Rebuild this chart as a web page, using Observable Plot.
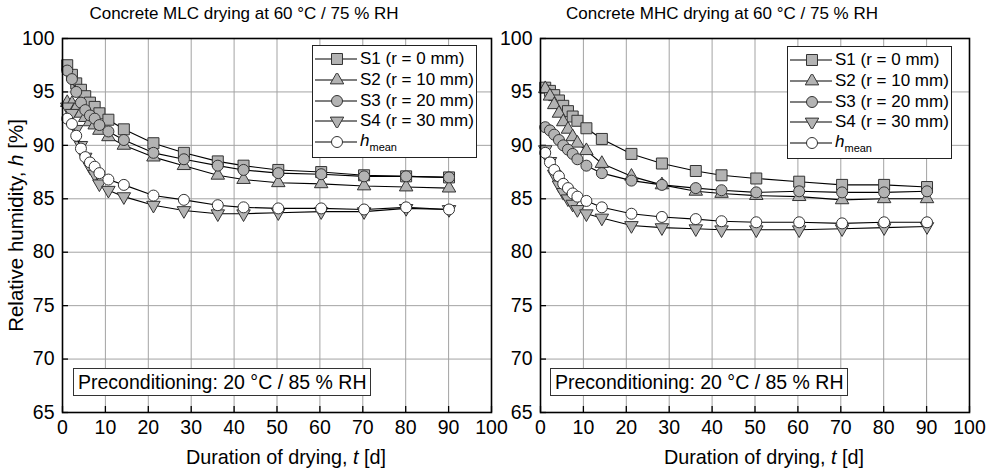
<!DOCTYPE html>
<html><head><meta charset="utf-8">
<script src="https://cdn.jsdelivr.net/npm/d3@7"></script>
<script src="https://cdn.jsdelivr.net/npm/@observablehq/plot@0.6"></script>
<style>
body{margin:0;background:#fff;font-family:"Liberation Sans",Arial,sans-serif;}
#wrap{position:relative;width:994px;height:472px;overflow:hidden;background:#fff}
.panel{position:absolute;top:0;width:497px;height:472px}
.panel svg{overflow:visible}
.legend{position:absolute;border:1px solid #222;background:#fff;font-size:17px;padding:3px 4px 3px 2px;box-sizing:border-box;color:#000}
.legend .row{height:20.7px;display:flex;align-items:center;white-space:nowrap}
.legend svg{flex:none;margin-right:3px}
.legend sub{font-size:11px;vertical-align:-5px}
.precond{position:absolute;border:1px solid #333;background:#fff;font-size:19.5px;box-sizing:border-box;height:28px;line-height:26px;padding:0 4px;white-space:nowrap;color:#000}
</style></head><body><div id="wrap"></div>
<script>
// ---- data ----
const days = [1.1, 2.2, 3.2, 4.3, 5.3, 6.4, 7.5, 8.6, 10.7, 14.3, 21.2, 28.3, 36.2, 42.2, 50.3, 60.3, 70.3, 80.1, 90.1];
const seriesKeys = ["S1", "S2", "S3", "S4", "hmean"];
const seriesNames = ["S1 (r = 0 mm)", "S2 (r = 10 mm)", "S3 (r = 20 mm)", "S4 (r = 30 mm)", "h mean"];

const mlcS1 = [97.5, 96.6, 95.8, 95.2, 94.6, 94.0, 93.6, 93.0, 92.4, 91.5, 90.2, 89.3, 88.5, 88.1, 87.7, 87.5, 87.2, 87.1, 87.0];
const mlcS2 = [94.0, 93.9, 93.5, 93.0, 92.6, 92.2, 91.9, 91.4, 90.8, 90.0, 88.9, 88.1, 87.2, 86.8, 86.5, 86.4, 86.2, 86.1, 86.0];
const mlcS3 = [97.0, 96.2, 95.0, 94.0, 93.3, 92.8, 92.5, 91.9, 91.3, 90.5, 89.3, 88.7, 88.1, 87.7, 87.4, 87.3, 87.1, 87.1, 87.0];
const mlcS4 = [93.6, 93.0, 91.5, 90.0, 88.9, 88.0, 87.3, 86.4, 85.8, 85.2, 84.4, 83.9, 83.6, 83.6, 83.7, 83.8, 83.8, 84.1, 84.0];
const mlcMean = [92.5, 92.0, 90.9, 89.7, 88.9, 88.4, 88.0, 87.4, 86.8, 86.3, 85.3, 84.9, 84.4, 84.2, 84.1, 84.1, 84.0, 84.2, 84.0];

const mhcS1 = [95.4, 95.1, 94.7, 94.2, 93.7, 93.2, 92.7, 92.3, 91.6, 90.6, 89.2, 88.3, 87.6, 87.2, 86.9, 86.6, 86.3, 86.3, 86.1];
const mhcS2 = [95.3, 94.6, 93.8, 93.0, 92.2, 91.5, 90.8, 90.2, 89.5, 88.3, 87.1, 86.3, 85.7, 85.5, 85.3, 85.2, 84.9, 85.0, 85.0];
const mhcS3 = [91.7, 91.4, 91.0, 90.5, 90.0, 89.6, 89.2, 88.7, 88.1, 87.4, 86.7, 86.3, 86.0, 85.8, 85.6, 85.7, 85.6, 85.6, 85.7];
const mhcS4 = [89.6, 88.5, 87.3, 86.3, 85.6, 85.0, 84.5, 84.0, 83.6, 83.2, 82.5, 82.3, 82.2, 82.1, 82.1, 82.1, 82.2, 82.3, 82.4];
const mhcMean = [89.3, 88.4, 87.7, 87.1, 86.4, 86.0, 85.5, 85.2, 84.8, 84.2, 83.6, 83.3, 83.1, 82.9, 82.8, 82.8, 82.7, 82.8, 82.8];

const xTicks = [0, 10, 20, 30, 40, 50, 60, 70, 80, 90, 100];
const yTicks = [65, 70, 75, 80, 85, 90, 95, 100];
const titles = ["Concrete MLC drying at 60 °C / 75 % RH", "Concrete MHC drying at 60 °C / 75 % RH"];
const xLabel = "Duration of drying, t [d]";
const yLabel = "Relative humidity, h [%]";
const noteText = "Preconditioning: 20 °C / 85 % RH";

// ---- styles ----
const GRAY = "#b3b3b3", MSTROKE = "#333";
const symStyle = {
  S1: {symbol: "square", r: 6.2, fill: GRAY, rotate: 0},
  S2: {symbol: "triangle", r: 5.0, fill: GRAY, rotate: 0},
  S3: {symbol: "circle", r: 5.5, fill: GRAY, rotate: 0},
  S4: {symbol: "triangle", r: 5.0, fill: GRAY, rotate: 180},
  hmean: {symbol: "circle", r: 5.5, fill: "#fff", rotate: 0}
};

function rows(arrs) {
  const out = [];
  seriesKeys.forEach((k, i) => arrs[i].forEach((h, j) => out.push({s: k, t: days[j], h})));
  return out;
}

function panel(title, data, ml, mr, showY) {
  const fw = 497 - ml - mr, fh = 472 - 38 - 60;
  const marks = [
    Plot.gridX(xTicks, {stroke: "#a3a3a3", strokeOpacity: 1, strokeWidth: 1}),
    Plot.gridY(yTicks, {stroke: "#a3a3a3", strokeOpacity: 1, strokeWidth: 1}),
    Plot.tickX(xTicks, {x: d => d, insetTop: fh - 6, stroke: "#000", strokeWidth: 1.3}),
    Plot.tickY(yTicks, {y: d => d, insetRight: fw - 6, stroke: "#000", strokeWidth: 1.3}),
    Plot.axisX(xTicks, {tickSize: 0, tickPadding: 8, label: null, fontSize: 19.5}),
    Plot.axisY(yTicks, {tickSize: 0, tickPadding: 8, label: null, fontSize: 19.5})
  ];
  for (const k of seriesKeys) {
    const d = data.filter(r => r.s === k);
    const st = symStyle[k];
    marks.push(Plot.line(d, {x: "t", y: "h", stroke: "#000", strokeWidth: 1.1}));
    marks.push(Plot.dot(d, {x: "t", y: "h", symbol: () => st.symbol, r: st.r, fill: st.fill, stroke: MSTROKE, strokeWidth: 1, rotate: st.rotate}));
  }
  marks.push(Plot.frame({stroke: "#000", strokeWidth: 1.6}));
  marks.push(Plot.text([title], {frameAnchor: "top", lineAnchor: "middle", textAnchor: "middle", dy: -25, dx: -33, fontSize: 17, fill: "#000"}));
  marks.push(Plot.text([xLabel], {frameAnchor: "bottom", lineAnchor: "middle", textAnchor: "middle", dy: 45, dx: 9, fontSize: 19.8, fill: "#000"}));
  if (showY) marks.push(Plot.text([yLabel], {frameAnchor: "left", lineAnchor: "middle", textAnchor: "middle", dx: -46, rotate: -90, fontSize: 20.5, fill: "#000"}));
  const svg = Plot.plot({
    width: 497, height: 472, marginLeft: ml, marginRight: mr, marginTop: 38, marginBottom: 60,
    x: {domain: [0, 100]}, y: {domain: [65, 100]},
    symbol: {type: "identity"},
    style: {fontFamily: "'Liberation Sans', Arial, sans-serif", fontSize: "19.5px", color: "#000", background: "transparent", overflow: "visible"},
    marks
  });
  svg.querySelectorAll("text").forEach(t => {
    if (t.textContent === xLabel) t.innerHTML = 'Duration of drying, <tspan font-style="italic">t</tspan> [d]';
    if (t.textContent === yLabel) t.innerHTML = 'Relative humidity, <tspan font-style="italic">h</tspan> [%]';
  });
  return svg;
}

function legendSymbol(k) {
  const st = symStyle[k];
  const symMap = {square: d3.symbolSquare, triangle: d3.symbolTriangle, circle: d3.symbolCircle};
  const p = d3.symbol(symMap[st.symbol], Math.PI * st.r * st.r)();
  return `<svg width="42" height="14" viewBox="0 0 42 14"><line x1="0" x2="42" y1="7" y2="7" stroke="#000" stroke-width="1.1"/><path d="${p}" transform="translate(22,7) rotate(${st.rotate})" fill="${st.fill}" stroke="${MSTROKE}" stroke-width="1"/></svg>`;
}

function addLegend(wrap, left, top) {
  const div = document.createElement("div");
  div.className = "legend";
  div.style.left = left + "px"; div.style.top = top + "px";
  div.style.width = "165px"; div.style.height = "113px";
  div.innerHTML = seriesKeys.map((k, i) => {
    const label = k === "hmean" ? '<i>h</i><sub>mean</sub>' : seriesNames[i];
    return `<div class="row">${legendSymbol(k)}<span>${label}</span></div>`;
  }).join("");
  wrap.appendChild(div);
}

function addNote(wrap, left, top) {
  const div = document.createElement("div");
  div.className = "precond";
  div.style.left = left + "px"; div.style.top = top + "px"; div.style.width = "298px";
  div.textContent = noteText;
  wrap.appendChild(div);
}

const wrap = document.getElementById("wrap");
const p1 = document.createElement("div"); p1.className = "panel"; p1.style.left = "0px";
p1.appendChild(panel(titles[0], rows([mlcS1, mlcS2, mlcS3, mlcS4, mlcMean]), 62, 6, true));
const p2 = document.createElement("div"); p2.className = "panel"; p2.style.left = "497px";
p2.appendChild(panel(titles[1], rows([mhcS1, mhcS2, mhcS3, mhcS4, mhcMean]), 43, 25, false));
wrap.appendChild(p1); wrap.appendChild(p2);
addLegend(wrap, 312, 45);
addLegend(wrap, 787, 46);
addNote(wrap, 73, 368);
addNote(wrap, 550, 368);
</script>
</body></html>
